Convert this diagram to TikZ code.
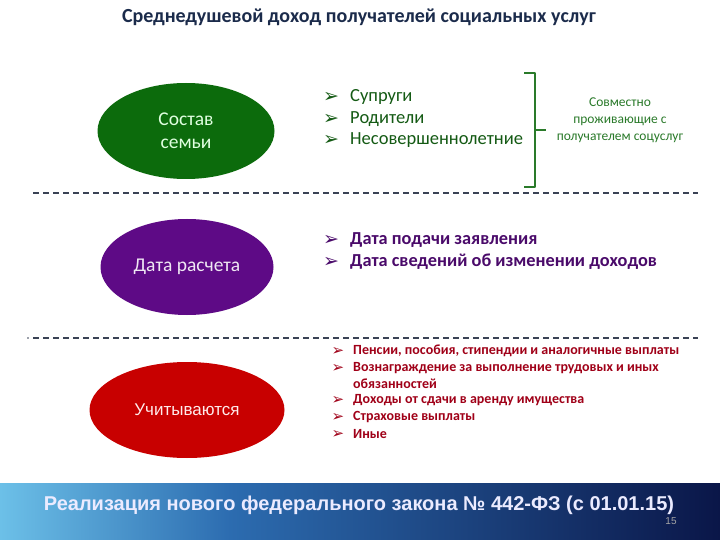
\documentclass[tikz,border=0pt]{standalone}
\usepackage{fontspec}
\setmainfont{Carlito}
\newfontfamily\dejavu{DejaVu Sans}
\newfontfamily\arialf{Liberation Sans}
\usetikzlibrary{shapes.geometric}
\definecolor{titlec}{HTML}{1B2B4B}
\definecolor{gfill}{HTML}{0C6B0C}
\definecolor{gtext}{HTML}{145A14}
\definecolor{gbr}{HTML}{2A7A2A}
\definecolor{pfill}{HTML}{5E0A86}
\definecolor{ptext}{HTML}{4A0A6A}
\definecolor{rfill}{HTML}{C80000}
\definecolor{rtext}{HTML}{A00018}
\definecolor{dashc}{HTML}{3A4255}
\definecolor{bandA}{HTML}{6CC0E8}
\definecolor{bandB}{HTML}{2C6CB0}
\definecolor{bandC}{HTML}{0A1648}
\newcommand{\arrb}{{\dejavu\char"27A2}}
\begin{document}
\begin{tikzpicture}[x=1pt,y=-1pt,
  oval/.style={ellipse, minimum width=#1, minimum height=96pt, inner sep=0pt, align=center, font=\fontsize{19.5}{23}\selectfont},
  itemA/.style={anchor=west, inner sep=0pt, font=\fontsize{18.5}{20}\selectfont},
  itemB/.style={anchor=west, inner sep=0pt, font=\bfseries\fontsize{18.3}{20}\selectfont, text=ptext},
  itemC/.style={anchor=west, inner sep=0pt, font=\bfseries\fontsize{14}{15}\selectfont, text=rtext},
  arr/.style={inner sep=0pt, font=\fontsize{19}{20}\selectfont},
  arrs/.style={inner sep=0pt, font=\fontsize{15}{16}\selectfont, text=rtext},
  sep/.style={dashc, line width=1.4pt, dash pattern=on 6pt off 4pt}]
\useasboundingbox (0,0) rectangle (720,540);
\fill[white] (0,0) rectangle (720,540);
% title
\node[font=\bfseries\fontsize{20}{22}\selectfont, text=titlec] (title) at (359,17) {Среднедушевой доход получателей социальных услуг};
% row 1
\node[oval=177pt, fill=gfill, text=white!88!green] (e1) at (186,131) {Состав\\семьи};
\node[arr, text=gtext] (a11) at (331,97) {\arrb};
\node[itemA, text=gtext] (t11) at (350,97) {Супруги};
\node[arr, text=gtext] (a12) at (331,119) {\arrb};
\node[itemA, text=gtext] (t12) at (350,119) {Родители};
\node[arr, text=gtext] (a13) at (331,140) {\arrb};
\node[itemA, text=gtext] (t13) at (350,140) {Несовершеннолетние};
\coordinate (bt) at (524,73);
\coordinate (bb) at (524,187);
\coordinate (bm) at (535,130);
\draw[gbr, line width=1.8pt, line join=round] (bt) -- ++(11,0) |- (bb);
\draw[gbr, line width=1.8pt] (bm) -- ++(11,0);
\node[align=center, text=gbr, font=\fontsize{13.5}{17}\selectfont] (note) at (620,120) {Совместно\\проживающие с\\получателем соцуслуг};
\coordinate (d1a) at (33,193);
\coordinate (d1b) at (698,193);
\draw[sep] (d1a) -- (d1b);
% row 2
\node[oval=173pt, fill=pfill, text=white!90!pfill] (e2) at (187,267) {Дата расчета};
\node[arr, text=ptext] (a21) at (331,240) {\arrb};
\node[itemB] (t21) at (350,240) {Дата подачи заявления};
\node[arr, text=ptext] (a22) at (331,262) {\arrb};
\node[itemB] (t22) at (350,262) {Дата сведений об изменении доходов};
\coordinate (d2a) at (33,338);
\coordinate (d2b) at (698,338);
\draw[sep] (d2a) -- (d2b);
\fill[dashc] (28,338) circle (0.8pt);
% row 3
\node[oval=195pt, fill=rfill, text=white!92!red, font=\arialf\fontsize{17}{20}\selectfont] (e3) at (187,410) {Учитываются};
\node[arrs] (a31) at (338,351) {\arrb};
\node[itemC] (t31) at (353,351) {Пенсии, пособия, стипендии и аналогичные выплаты};
\node[arrs] (a32) at (338,368) {\arrb};
\node[itemC] (t32) at (353,368) {Вознаграждение за выполнение трудовых и иных};
\node[itemC] (t32b) at (353,384) {обязанностей};
\node[arrs] (a33) at (338,400) {\arrb};
\node[itemC] (t33) at (353,400) {Доходы от сдачи в аренду имущества};
\node[arrs] (a34) at (338,417) {\arrb};
\node[itemC] (t34) at (353,417) {Страховые выплаты};
\node[arrs] (a35) at (338,434) {\arrb};
\node[itemC] (t35) at (353,434) {Иные};
% footer band
\shade[left color=bandA, right color=bandB] (0,483) rectangle (230,540);
\shade[left color=bandB, right color=bandC] (229.5,483) rectangle (720,540);
\node[text=white!92!blue, font=\arialf\bfseries\fontsize{20}{22}\selectfont] (foot) at (359,505) {Реализация нового федерального закона № 442-ФЗ (с 01.01.15)};
\node[text=gray!70, font=\arialf\fontsize{10}{11}\selectfont] (pg) at (671,521) {15};
\end{tikzpicture}
\end{document}
